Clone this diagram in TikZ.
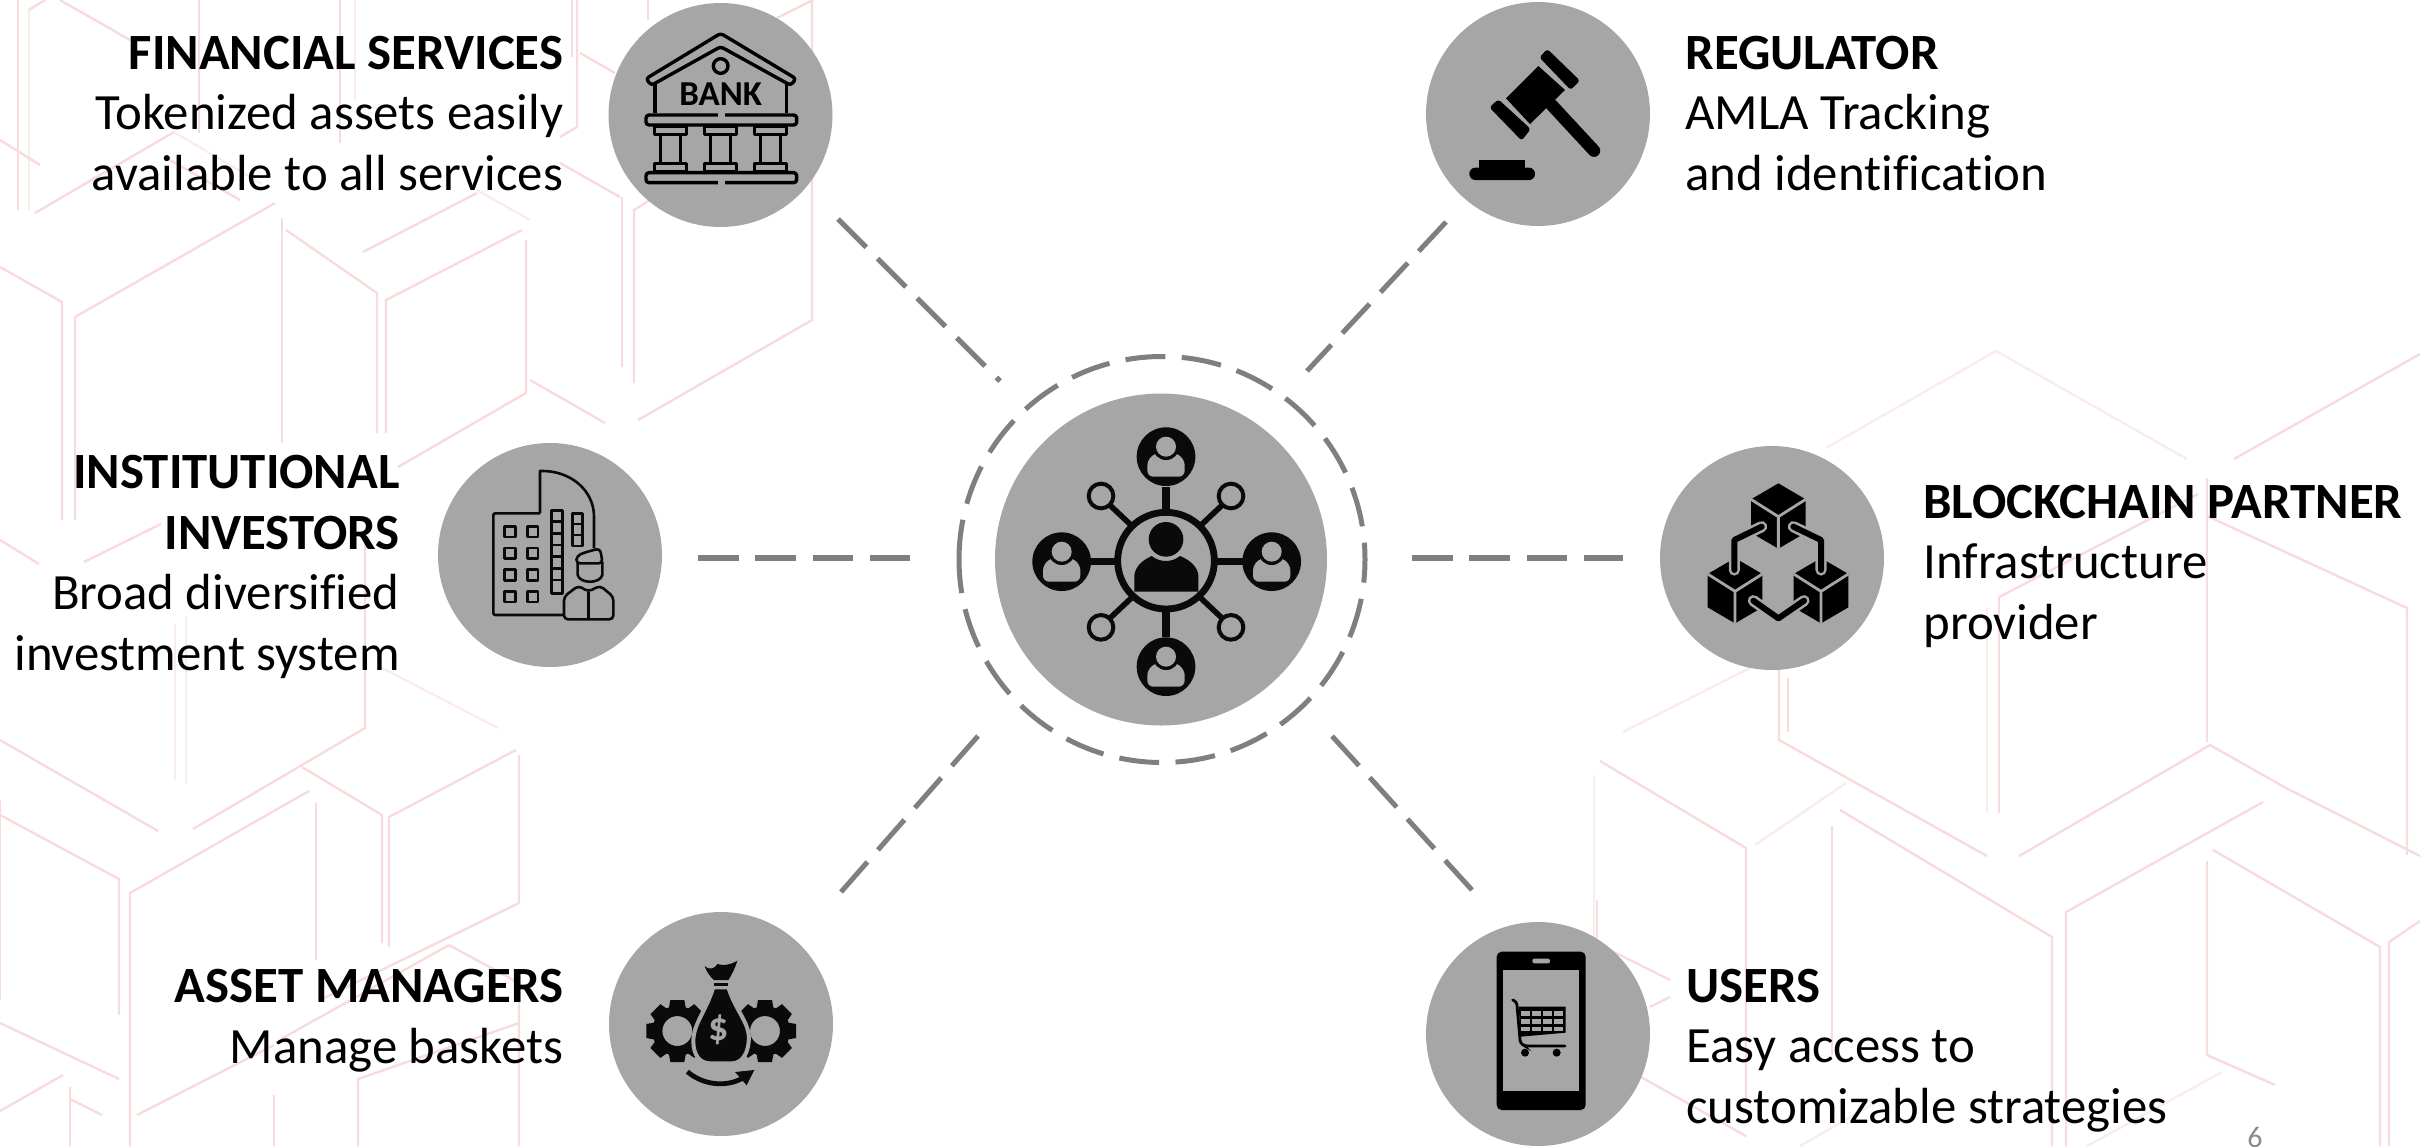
\documentclass[tikz,border=0pt]{standalone}
\usepackage{fontspec}
\setmainfont[Ligatures={NoCommon}]{Carlito}
\definecolor{disc}{HTML}{A6A6A6}
\definecolor{dashgray}{HTML}{7F7F7F}
\definecolor{ink}{HTML}{0A0A0A}
\definecolor{hexpink}{HTML}{F8DCDC}
\definecolor{hexpale}{HTML}{FBECEC}
\definecolor{pagenum}{HTML}{8C8C8C}
\tikzset{
  hexline/.style={draw=hexpink,line width=1.2pt,line join=miter},
  hexfaint/.style={draw=hexpale,line width=1.2pt,line join=miter},
  bigdisc/.style={circle,fill=disc,inner sep=0pt,minimum size=112pt},
  hubdisc/.style={circle,fill=disc,inner sep=0pt,minimum size=166pt},
  linkdash/.style={draw=dashgray,line width=2.5pt,dash pattern=on 20pt off 8pt},
  flatdash/.style={draw=dashgray,line width=2.8pt,dash pattern=on 20.3pt off 8.4pt},
  ringdash/.style={draw=dashgray,line width=2.5pt,dash pattern=on 20pt off 8.225pt},
  righttext/.style={anchor=base east,align=right,inner sep=0pt,font=\fontsize{25.4}{30.25}\selectfont},
  lefttext/.style={anchor=base west,align=left,inner sep=0pt,font=\fontsize{25.4}{30.25}\selectfont},
  zoomed/.style={shift={(#1)},x=.16667pt,y=-.16667pt},
}
\newcommand{\gearicon}[2]{%
  \draw[ink,line width=5pt] (#1,#2) circle [radius=60];
  \foreach \a in {0,45,...,315}
    \fill[ink,shift={(#1,#2)},rotate=\a] (-21,-93) -- (21,-93) -- (26,-65) -- (-26,-65) -- cycle;
}
\newcommand{\satuser}[2]{%
  \fill[ink] (#1,#2) circle [radius=88];
  \fill[disc,rounded corners=3pt] (#1-56,#2+60) -- (#1-56,#2+8) -- (#1-25,#2-14) -- (#1+25,#2-14) -- (#1+56,#2+8) -- (#1+56,#2+60) -- cycle;
  \fill[ink] (#1,#2-30) circle [radius=40];
  \fill[disc] (#1,#2-30) circle [radius=30];
}
\begin{document}
\begin{tikzpicture}[x=.5pt,y=-.5pt]
\useasboundingbox (0,0) rectangle (2420,1146);
\clip (0,0) rectangle (2420,1146);
% ---------- background hexagon pattern, upper left
\draw[hexline] (35,213) -- (174,132);
\draw[hexfaint] (174,132) -- (262,184);
\draw[hexline] (75,520) -- (75,317) -- (275,203);
\draw[hexline] (0,267) -- (62,302) -- (62,520);
\draw[hexline] (282,218) -- (282,443);
\draw[hexline] (286,230) -- (377,293) -- (377,433);
\draw[hexline] (386,433) -- (386,300) -- (522,230);
\draw[hexline] (526,240) -- (526,393) -- (398,467);
\draw[hexline] (363,252) -- (477,193);
\draw[hexfaint] (477,190) -- (530,220);
\draw[hexline] (530,380) -- (605,423);
\draw[hexline] (638,420) -- (812,320) -- (812,0);
\draw[hexline] (622,197) -- (622,367);
\draw[hexline] (634,383) -- (634,210) -- (650,200);
\draw[hexline] (572,0) -- (572,57);
\draw[hexline] (580,53) -- (615,73);
\draw[hexline] (560,137) -- (577,127) -- (577,0);
\draw[hexline] (560,163) -- (620,197);
\draw[hexline] (777,18) -- (813,0);
\draw[hexline] (199,0) -- (199,133);
\draw[hexline] (340,0) -- (340,143);
\draw[hexfaint] (355,0) -- (355,100);
\draw[hexline] (18,0) -- (18,210);
\draw[hexfaint] (29,10) -- (29,210);
\draw[hexline] (648,0) -- (648,20);
\draw[hexline] (29,10) -- (45,0);
\draw[hexline] (0,140) -- (40,165);
\draw[hexline] (60,0) -- (130,40);
\draw[hexline] (240,200) -- (170,160);
% ---------- lower left
\draw[hexline] (0,540) -- (39,564);
\draw[hexline] (84,562) -- (161,524);
\draw[hexfaint] (186,616) -- (186,783);
\draw[hexfaint] (175,624) -- (175,780);
\draw[hexline] (365,544) -- (365,728) -- (193,829);
\draw[hexline] (0,740) -- (158,831);
\draw[hexfaint] (382,668) -- (498,728);
\draw[hexline] (516,750) -- (389,817) -- (389,947);
\draw[hexline] (519,755) -- (519,903) -- (320,1000);
\draw[hexline] (302,767) -- (382,815) -- (382,943);
\draw[hexline] (309,791) -- (130,893) -- (130,1146);
\draw[hexline] (316,803) -- (316,960);
\draw[hexline] (0,815) -- (119,879) -- (119,1015);
\draw[hexline] (0,800) -- (0,1000);
\draw[hexline] (449,945) -- (519,983) -- (519,1146);
\draw[hexline] (449,945) -- (281,1039);
\draw[hexline] (0,1023) -- (119,1079);
\draw[hexline] (0,1111) -- (63,1075);
\draw[hexline] (70,1146) -- (70,1087);
\draw[hexline] (70,1099) -- (102,1115);
\draw[hexline] (137,1115) -- (274,1045);
\draw[hexline] (274,1095) -- (274,1146);
\draw[hexline] (358,1146) -- (358,1079) -- (519,1023);
% ---------- right side
\draw[hexfaint] (1826,448) -- (1996,351) -- (2187,459);
\draw[hexline] (2234,459) -- (2420,354);
\draw[hexline] (2207,478) -- (2207,742);
\draw[hexline] (2207,516) -- (2407,608) -- (2407,855);
\draw[hexline] (1999,597) -- (2198,494);
\draw[hexline] (1999,597) -- (1999,813);
\draw[hexfaint] (1987,607) -- (1987,813);
\draw[hexline] (1779,667) -- (1779,740) -- (1987,856);
\draw[hexline] (1788,678) -- (1788,732);
\draw[hexfaint] (1752,667) -- (1623,732);
\draw[hexline] (1600,761) -- (1746,848) -- (1746,1100);
\draw[hexfaint] (1594,775) -- (1594,1000);
\draw[hexfaint] (1755,845) -- (1846,783);
\draw[hexline] (1840,810) -- (2052,937) -- (2052,1146);
\draw[hexline] (1832,826) -- (1832,1055);
\draw[hexline] (2019,856) -- (2210,745) -- (2286,788) -- (2420,856);
\draw[hexline] (2263,802) -- (2066,912) -- (2066,1146);
\draw[hexline] (2207,861) -- (2207,1055) -- (2275,1085);
\draw[hexline] (2213,850) -- (2380,947) -- (2380,1146);
\draw[hexline] (2420,921) -- (2389,942) -- (2389,1146);
\draw[hexline] (1641,1077) -- (1746,1136);
\draw[hexfaint] (2087,1146) -- (2222,1072);
\draw[hexline] (1610,950) -- (1670,980);
\draw[hexline] (1650,1007) -- (1670,997);
\draw[hexline] (1597,900) -- (1597,950);
\draw[hexfaint] (1800,1146) -- (1880,1100);
% ---------- discs
\node[bigdisc] (bank) at (720.5,115) {};
\node[bigdisc] (regulator) at (1538,114) {};
\node[bigdisc] (institutional) at (550,555) {};
\node[bigdisc] (blockchain) at (1772,558) {};
\node[bigdisc] (asset) at (721,1024) {};
\node[bigdisc] (users) at (1538,1034) {};
\node[hubdisc] (hub) at (1161,559.5) {};
% ---------- ring and connectors
\draw[ringdash] (959,559.5) arc [start angle=180,delta angle=-360,x radius=101.5pt,y radius=101.5pt];
\coordinate (bankEnd) at (838,219);
\coordinate (hubTL) at (1000,381);
\coordinate (regEnd) at (1446,222);
\coordinate (hubTR) at (1307,371);
\coordinate (instEnd) at (698,558);
\coordinate (hubL) at (910,558);
\coordinate (blockEnd) at (1623,558);
\coordinate (hubR) at (1412,558);
\coordinate (assetEnd) at (841,892);
\coordinate (hubBL) at (978,736);
\coordinate (usersEnd) at (1472,890);
\coordinate (hubBR) at (1332,736);
\draw[linkdash] (bankEnd) -- (hubTL);
\draw[linkdash] (regEnd) -- (hubTR);
\draw[flatdash] (instEnd) -- (hubL);
\draw[flatdash] (hubR) -- (blockEnd);
\draw[linkdash] (assetEnd) -- (hubBL);
\draw[linkdash] (usersEnd) -- (hubBR);
% ---------- bank icon
\begin{scope}[zoomed={560,0},draw=black,line width=1.7pt,line join=round]
  \draw[rounded corners=1.5pt,fill=disc] (258,236) -- (482,100) -- (708,236) -- (692,256) -- (482,140) -- (274,256) -- cycle;
  \draw (285,250) -- (285,340) (680,250) -- (680,340);
  \draw (482,198) circle [radius=22];
  \node[font=\fontsize{17.5}{18}\selectfont\bfseries,inner sep=0pt] (banklabel) at (482,283) {BANK};
  \draw[rounded corners=1.5pt] (258,345) rectangle (710,375);
  \fill[disc] (475,335) rectangle (495,352);
  \foreach \c in {332,482,632} {
    \draw (\c-48,380) rectangle (\c+48,403);
    \draw (\c-30,403) -- (\c-30,490) (\c+30,403) -- (\c+30,490);
    \draw (\c-48,490) rectangle (\c+48,515);
  }
  \draw[rounded corners=1.5pt] (258,518) rectangle (710,548);
  \fill[disc] (475,540) rectangle (495,556);
\end{scope}
% ---------- gavel icon
\begin{scope}[zoomed={1410,0}]
  \fill[black] (385,198) -- (465,270) -- (360,372) -- (288,295) -- cycle;
  \draw[black,line width=6.2pt,line cap=round] (425,315) -- (552,452);
  \fill[black,rounded corners=1.5pt] (388,172) -- (412,147) -- (510,242) -- (482,270) -- cycle;
  \fill[black,rounded corners=1.5pt] (238,322) -- (265,298) -- (362,387) -- (335,422) -- cycle;
  \fill[black,rounded corners=3pt] (178,503) rectangle (375,540);
  \fill[black] (208,480) rectangle (345,510);
\end{scope}
% ---------- institutional icon
\begin{scope}[zoomed={400,420},draw=ink,line width=1.3pt,line join=round]
  \draw[rounded corners=1pt] (420,280) -- (280,280) -- (280,585) -- (490,585);
  \draw (420,280) -- (420,153) .. controls (510,150) and (582,210) .. (582,290) -- (582,385);
  \foreach \c in {330,398} \foreach \r in {335,400,465,530}
    \draw (\c-16,\r-16) rectangle (\c+16,\r+16);
  \draw (455,272) rectangle (487,520);
  \foreach \r in {305,340,375,410,445,480} \draw (455,\r) -- (487,\r);
  \draw (517,280) rectangle (548,378);
  \foreach \r in {312,345} \draw (517,\r) -- (548,\r);
  \draw[fill=disc,rounded corners=2pt] (492,598) -- (492,530) -- (535,497) -- (565,515) -- (600,497) -- (640,530) -- (640,598) -- cycle;
  \draw (565,515) -- (565,598);
  \draw[fill=disc] (533,425) -- (533,465) .. controls (540,492) and (600,492) .. (607,465) -- (607,425);
  \draw[fill=disc,rounded corners=2pt] (528,430) -- (530,408) -- (552,398) -- (600,385) -- (608,430) -- cycle;
\end{scope}
% ---------- asset manager icon
\begin{scope}[zoomed={600,900}]
  \gearicon{232}{393}
  \gearicon{495}{393}
  \filldraw[ink,draw=disc,line width=2pt] (340,262) -- (385,262) .. controls (410,340) and (452,370) .. (446,425) .. controls (442,470) and (420,490) .. (395,490) -- (330,490) .. controls (300,490) and (280,465) .. (280,425) .. controls (280,370) and (315,340) .. cycle;
  \fill[ink] (314,198) .. controls (330,212) and (345,205) .. (352,192) .. controls (370,198) and (390,195) .. (412,182) .. controls (405,205) and (395,225) .. (385,240) -- (342,240) .. controls (328,228) and (318,212) .. cycle;
  \fill[ink] (342,250) rectangle (385,258);
  \node[font=\fontsize{20}{20}\selectfont\bfseries,text=disc,inner sep=0pt] (dollarsign) at (357,388) {\$};
  \draw[ink,line width=2.4pt] (262,515) .. controls (315,560) and (390,562) .. (438,528);
  \fill[ink] (463,510) -- (405,516) -- (440,556) -- cycle;
\end{scope}
% ---------- phone icon
\begin{scope}[zoomed={1410,900}]
  \fill[black,rounded corners=2.5pt] (260,155) rectangle (527,630);
  \fill[disc] (279,210) rectangle (508,573);
  \fill[disc,rounded corners=1pt] (367,176) rectangle (420,190);
  \draw[black,line width=1.4pt,line cap=round,rounded corners=1.5pt] (308,300) -- (320,305) -- (331,430) -- (345,438) -- (465,438);
  \fill[black] (326,320) -- (467,320) -- (467,398) -- (332,410) -- cycle;
  \foreach \cx in {333,366,399,432} {
    \fill[disc] (\cx,333) rectangle ++(26,16);
    \fill[disc] (\cx,357) rectangle ++(26,15);
    \fill[disc] (\cx,380) rectangle ++(26,13);
  }
  \fill[black] (345,458) circle [radius=12];
  \fill[black] (440,458) circle [radius=12];
\end{scope}
% ---------- blockchain icon
\begin{scope}[zoomed={1650,430}]
  \foreach \cx/\cy in {385/258,255/482,513/482} {
    \fill[black] (\cx,\cy-98) -- (\cx+82,\cy-50) -- (\cx+82,\cy+50) -- (\cx,\cy+98) -- (\cx-82,\cy+50) -- (\cx-82,\cy-50) -- cycle;
    \draw[disc,line width=1.4pt] (\cx-82,\cy-50) -- (\cx,\cy+2) -- (\cx+82,\cy-50) (\cx,\cy+2) -- (\cx,\cy+98);
  }
  \draw[disc,line width=5.6pt,line cap=round,line join=round] (335,290) -- (253,330) -- (253,420);
  \draw[disc,line width=5.6pt,line cap=round,line join=round] (430,290) -- (513,330) -- (513,420);
  \draw[disc,line width=5.6pt,line cap=round,line join=round] (310,512) -- (385,565) -- (462,512);
  \draw[black,line width=3pt,line cap=round,line join=round] (335,290) -- (253,330) -- (253,420);
  \draw[black,line width=3pt,line cap=round,line join=round] (430,290) -- (513,330) -- (513,420);
  \draw[black,line width=3pt,line cap=round,line join=round] (310,512) -- (385,565) -- (462,512);
\end{scope}
% ---------- hub icon
\begin{scope}[zoomed={920,340}]
  \draw[ink,line width=3.4pt] (738,662) circle [radius=145];
  \draw[ink,line width=3.6pt] (738,440) -- (738,520) (738,805) -- (738,890) (510,665) -- (590,665) (890,665) -- (970,665);
  \draw[ink,line width=2.8pt] (636,558) -- (566,492) (840,558) -- (910,492) (636,772) -- (566,838) (840,772) -- (910,838);
  \foreach \cx/\cy in {543/468,933/468,543/862,933/862}
    \draw[ink,line width=2pt] (\cx,\cy) circle [radius=37];
  \fill[ink] (738,598) circle [radius=52];
  \fill[ink] (643,755) -- (643,705) .. controls (648,675) and (670,660) .. (695,648) .. controls (720,668) and (755,668) .. (780,648) .. controls (810,660) and (832,680) .. (835,705) -- (835,755) -- cycle;
  \satuser{738}{350}
  \satuser{738}{980}
  \satuser{425}{665}
  \satuser{1055}{665}
\end{scope}
% ---------- labels
\node[righttext] (fintext) at (563.5,190) {\textbf{FINANCIAL SERVICES}\\Tokenized assets easily\\available to all services};
\node[righttext] (insttext) at (400,670) {\textbf{INSTITUTIONAL}\\\textbf{INVESTORS}\\Broad diversified\\investment system};
\node[righttext] (assettext) at (563.5,1063) {\textbf{ASSET MANAGERS}\\Manage baskets};
\node[lefttext] (regtext) at (1685,190) {\textbf{REGULATOR}\\AMLA Tracking\\and identification};
\node[lefttext] (blocktext) at (1923,639) {\textbf{BLOCKCHAIN PARTNER}\\Infrastructure\\provider};
\node[lefttext] (userstext) at (1686,1123) {\textbf{USERS}\\Easy access to\\customizable strategies};
\node[anchor=base,inner sep=0pt,text=pagenum,font=\fontsize{15}{15}\selectfont] (pagelabel) at (2255,1147) {6};
\end{tikzpicture}
\end{document}
